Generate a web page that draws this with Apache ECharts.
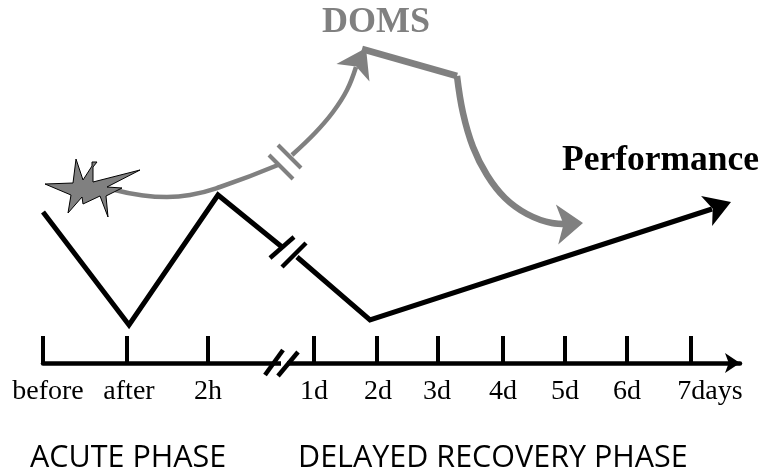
<!DOCTYPE html>
<html><head><meta charset="utf-8">
<style>html,body{margin:0;padding:0;background:#fff}#c{width:762px;height:474px}</style>
<script src="https://cdn.jsdelivr.net/npm/echarts@6/dist/echarts.min.js"></script>
</head><body><div id="c"></div>
<script>
// Tick positions and labels of the (schematic) time axis
const tickValues = [43,127,208,314,377,438,503,565,627,691];
const labelValues = [48,129,208,314,378,437,503,565,627,710];
const tickLabels = ['before','after','2h','1d','2d','3d','4d','5d','6d','7days'];

// Performance curve (x on time axis, y = schematic level)
const perfAcuteX = [43,129,218,282];
const perfAcuteY = [151,38,168,116];
const perfDelayedX = [297,370,712];
const perfDelayedY = [106,43,154];
const perfTip = [731,161];

// DOMS curve
const domsAcuteX = [115,140,167,190,220,278];
const domsAcuteY = [173,168,166,168,176,198];
const domsRiseX = [292,315,333,347,356];
const domsRiseY = [208,230,251,273,296];
const domsRiseTip = [366,315];
const domsPlateauX = [362,457];
const domsPlateauY = [314,287];
const domsFallX = [457,463,473,487,505,527,552,566];
const domsFallY = [287,250,216,188,165,149,140,139];
const domsFallTip = [583,140];

// Break marks
const perfBreak1X = [270,294], perfBreak1Y = [105,126];
const perfBreak2X = [282,306], perfBreak2Y = [96,120];
const domsBreak1X = [269,293], domsBreak1Y = [208,184];
const domsBreak2X = [278,301], domsBreak2Y = [218,195];
const axisBreakGapX = [281,287], axisBreakGapY = [0,0];
const axisBreak1X = [265,283], axisBreak1Y = [-12,13];
const axisBreak2X = [278,298], axisBreak2Y = [-13,11];

// Injury star outline
const starX = [45,73,76,83,92,92,97,93,93,140,107,122,106,108,100,83,82,68,71];
const starY = [179,180,204,183,197,201,201,196,181,193,176,175,167,146,167,159,166,150,168];

const BLACK='#000', GRAY='#808080';
const zip=(x,y)=>x.map((v,i)=>[v,y[i]]);
function line(x,y,color,width,smooth,tip,size){
  const s={type:'line',data:zip(x,y),symbol:'none',smooth:smooth||false,clip:false,silent:true,
    lineStyle:{color:color,width:width,cap:'butt',join:'miter'},z:3};
  if(tip){
    const n=x.length;
    s.markLine={silent:true,animation:false,symbol:['none','arrow'],symbolSize:size,label:{show:false},
      lineStyle:{color:color,width:0,type:'solid'},
      itemStyle:{color:color},
      emphasis:{disabled:true},
      data:[[{coord:[x[n-1],y[n-1]]},{coord:tip}]]};
  }
  return s;
}
const serif='"Liberation Serif","Times New Roman",serif';
const sans='"Open Sans","Noto Sans",sans-serif';
const chart=echarts.init(document.getElementById('c'),null,{renderer:'canvas'});
chart.setOption({
  animation:false,
  backgroundColor:'#fff',
  grid:{left:43,right:22,top:0,bottom:111},
  xAxis:{type:'value',min:43,max:740,splitLine:{show:false},
    axisLine:{show:true,onZero:true,symbol:['none','arrow'],symbolSize:[15,15],lineStyle:{color:BLACK,width:4.5}},
    axisTick:{show:true,inside:true,length:27,lineStyle:{color:BLACK,width:4},customValues:tickValues},
    axisLabel:{show:true,margin:15,fontFamily:serif,fontSize:28,color:BLACK,hideOverlap:false,
      customValues:labelValues,formatter:v=>tickLabels[labelValues.indexOf(v)]}},
  yAxis:{type:'value',min:0,max:363,show:false,splitLine:{show:false}},
  title:[
    {text:'DOMS',left:322,top:5,padding:0,textStyle:{fontFamily:serif,fontWeight:'bold',fontSize:36,color:GRAY}},
    {text:'Performance',left:562,top:143,padding:0,textStyle:{fontFamily:serif,fontWeight:'bold',fontSize:35.5,color:BLACK}},
    {text:'ACUTE PHASE',left:30,top:443,padding:0,textStyle:{fontFamily:sans,fontWeight:'normal',fontSize:30.5,color:BLACK}},
    {text:'DELAYED RECOVERY PHASE',left:298,top:443,padding:0,textStyle:{fontFamily:sans,fontWeight:'normal',fontSize:30.5,color:BLACK}}
  ],
  series:[
    line(axisBreakGapX,axisBreakGapY,'#fff',6),
    line(axisBreak1X,axisBreak1Y,BLACK,4.5),
    line(axisBreak2X,axisBreak2Y,BLACK,4.5),
    line(perfAcuteX,perfAcuteY,BLACK,5),
    line(perfDelayedX,perfDelayedY,BLACK,5,false,perfTip,[24,26]),
    line(perfBreak1X,perfBreak1Y,BLACK,4.5),
    line(perfBreak2X,perfBreak2Y,BLACK,4.5),
    line(domsAcuteX,domsAcuteY,GRAY,4.5,0.5),
    line(domsRiseX,domsRiseY,GRAY,4.5,0.4,domsRiseTip,[28,28]),
    line(domsPlateauX,domsPlateauY,GRAY,7),
    line(domsFallX,domsFallY,GRAY,6.5,0.4,domsFallTip,[30,26]),
    line(domsBreak1X,domsBreak1Y,GRAY,4),
    line(domsBreak2X,domsBreak2Y,GRAY,4),
    {type:'custom',silent:true,clip:false,z:4,coordinateSystem:'cartesian2d',data:[[0,0]],
      renderItem:(p,api)=>({type:'polygon',
        shape:{points:starX.map((x,i)=>api.coord([x,starY[i]]))},
        style:{fill:GRAY,stroke:BLACK,lineWidth:1}})}
  ]
});
</script></body></html>
